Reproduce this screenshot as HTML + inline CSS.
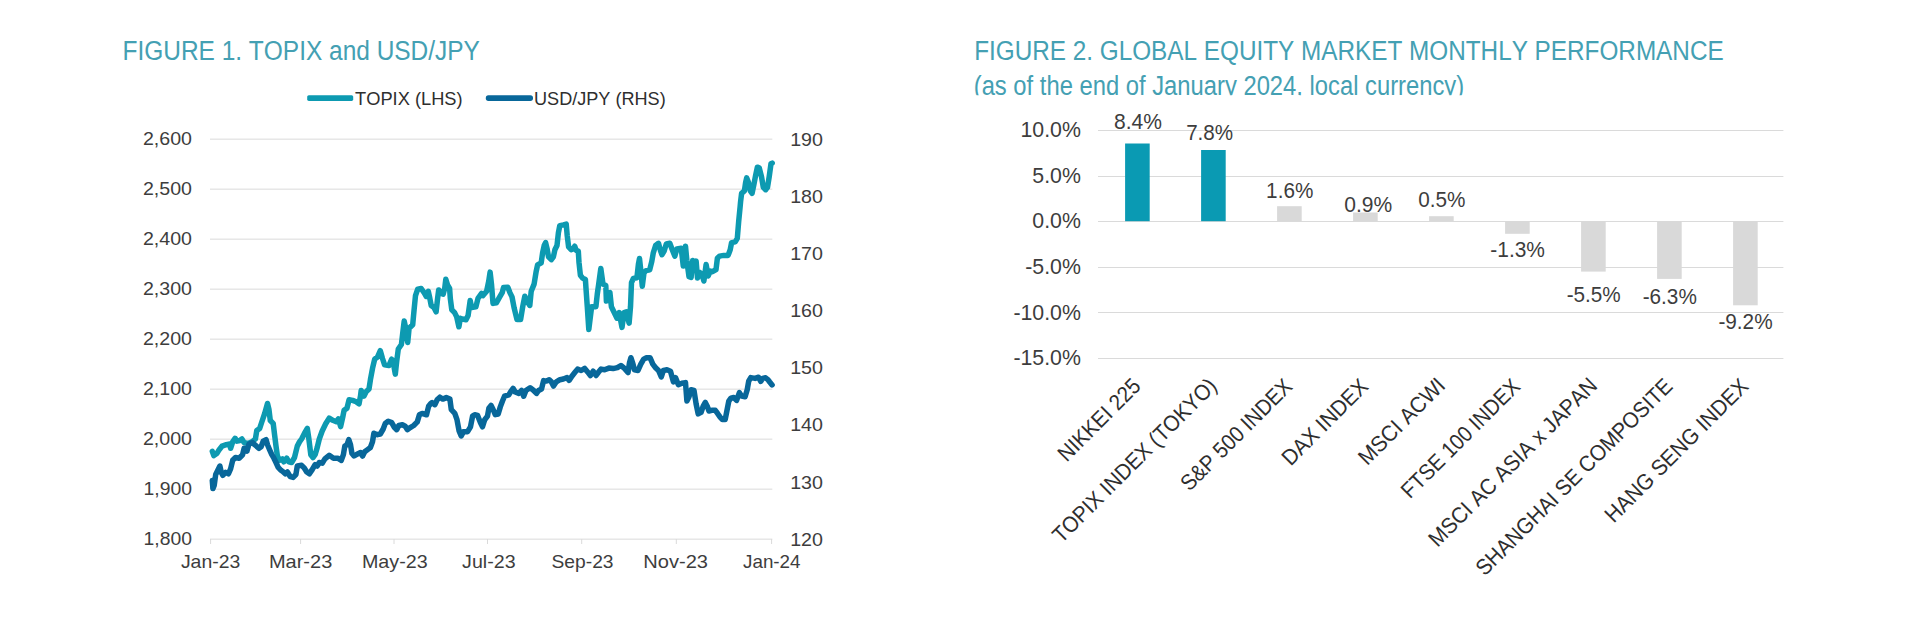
<!DOCTYPE html>
<html lang="en"><head><meta charset="utf-8"><title>Figures</title>
<style>
html,body{margin:0;padding:0;background:#fff;}
body{width:1920px;height:634px;overflow:hidden;position:relative;font-family:"Liberation Sans",sans-serif;}
svg{position:absolute;left:0;top:0;display:block}
text{font-family:"Liberation Sans",sans-serif;font-kerning:none;}
.ttl{fill:#44a0b3;font-size:27.0px}
.ax{fill:#3d3d3d;font-size:18.4px}
.ax2{fill:#3d3d3d;font-size:22.3px}
.cat{fill:#2e2e2e;font-size:22.3px}
.leg{fill:#2e2e2e;font-size:18.9px}
.grid{stroke:#dadada;stroke-width:1;fill:none}
</style></head><body>
<svg width="1920" height="634" viewBox="0 0 1920 634">
<defs><clipPath id="c2"><rect x="960" y="60" width="800" height="35.2"/></clipPath></defs>
<text class="ttl" x="122.49" y="59.80" textLength="357.44" lengthAdjust="spacingAndGlyphs">FIGURE 1. TOPIX and USD/JPY</text>
<text class="ttl" x="974.21" y="59.70" textLength="749.44" lengthAdjust="spacingAndGlyphs">FIGURE 2. GLOBAL EQUITY MARKET MONTHLY PERFORMANCE</text>
<g clip-path="url(#c2)"><text class="ttl" x="973.73" y="94.80" textLength="490.45" lengthAdjust="spacingAndGlyphs">(as of the end of January 2024, local currency)</text></g>
<line class="grid" x1="210.0" y1="139.15" x2="772.3" y2="139.15"/>
<text class="ax" x="142.91" y="145.40" textLength="49.05" lengthAdjust="spacingAndGlyphs">2,600</text>
<line class="grid" x1="210.0" y1="189.15" x2="772.3" y2="189.15"/>
<text class="ax" x="142.91" y="195.40" textLength="49.05" lengthAdjust="spacingAndGlyphs">2,500</text>
<line class="grid" x1="210.0" y1="239.15" x2="772.3" y2="239.15"/>
<text class="ax" x="142.91" y="245.40" textLength="49.05" lengthAdjust="spacingAndGlyphs">2,400</text>
<line class="grid" x1="210.0" y1="289.15" x2="772.3" y2="289.15"/>
<text class="ax" x="142.91" y="295.40" textLength="49.05" lengthAdjust="spacingAndGlyphs">2,300</text>
<line class="grid" x1="210.0" y1="339.15" x2="772.3" y2="339.15"/>
<text class="ax" x="142.91" y="345.40" textLength="49.05" lengthAdjust="spacingAndGlyphs">2,200</text>
<line class="grid" x1="210.0" y1="389.15" x2="772.3" y2="389.15"/>
<text class="ax" x="142.91" y="395.40" textLength="49.05" lengthAdjust="spacingAndGlyphs">2,100</text>
<line class="grid" x1="210.0" y1="439.15" x2="772.3" y2="439.15"/>
<text class="ax" x="142.91" y="445.40" textLength="49.05" lengthAdjust="spacingAndGlyphs">2,000</text>
<line class="grid" x1="210.0" y1="489.15" x2="772.3" y2="489.15"/>
<text class="ax" x="143.53" y="495.40" textLength="48.43" lengthAdjust="spacingAndGlyphs">1,900</text>
<line class="grid" x1="210.0" y1="539.15" x2="772.3" y2="539.15"/>
<text class="ax" x="143.53" y="545.40" textLength="48.43" lengthAdjust="spacingAndGlyphs">1,800</text>
<text class="ax" x="790.20" y="145.6" textLength="32.76" lengthAdjust="spacingAndGlyphs">190</text>
<text class="ax" x="790.20" y="202.7" textLength="32.76" lengthAdjust="spacingAndGlyphs">180</text>
<text class="ax" x="790.20" y="259.9" textLength="32.76" lengthAdjust="spacingAndGlyphs">170</text>
<text class="ax" x="790.20" y="317.0" textLength="32.76" lengthAdjust="spacingAndGlyphs">160</text>
<text class="ax" x="790.20" y="374.2" textLength="32.76" lengthAdjust="spacingAndGlyphs">150</text>
<text class="ax" x="790.20" y="431.3" textLength="32.76" lengthAdjust="spacingAndGlyphs">140</text>
<text class="ax" x="790.20" y="488.5" textLength="32.76" lengthAdjust="spacingAndGlyphs">130</text>
<text class="ax" x="790.20" y="545.6" textLength="32.76" lengthAdjust="spacingAndGlyphs">120</text>
<line class="grid" x1="210.6" y1="539" x2="210.6" y2="544"/>
<text class="ax" x="180.90" y="568.20" textLength="59.36" lengthAdjust="spacingAndGlyphs">Jan-23</text>
<line class="grid" x1="300.6" y1="539" x2="300.6" y2="544"/>
<text class="ax" x="268.96" y="568.20" textLength="63.32" lengthAdjust="spacingAndGlyphs">Mar-23</text>
<line class="grid" x1="394" y1="539" x2="394" y2="544"/>
<text class="ax" x="361.98" y="568.20" textLength="65.68" lengthAdjust="spacingAndGlyphs">May-23</text>
<line class="grid" x1="487.5" y1="539" x2="487.5" y2="544"/>
<text class="ax" x="462.09" y="568.20" textLength="53.47" lengthAdjust="spacingAndGlyphs">Jul-23</text>
<line class="grid" x1="581.7" y1="539" x2="581.7" y2="544"/>
<text class="ax" x="551.53" y="568.20" textLength="62.02" lengthAdjust="spacingAndGlyphs">Sep-23</text>
<line class="grid" x1="676.3" y1="539" x2="676.3" y2="544"/>
<text class="ax" x="643.25" y="568.20" textLength="64.73" lengthAdjust="spacingAndGlyphs">Nov-23</text>
<line class="grid" x1="771.6" y1="539" x2="771.6" y2="544"/>
<text class="ax" x="743.01" y="568.20" textLength="57.55" lengthAdjust="spacingAndGlyphs">Jan-24</text>
<rect x="307.2" y="95.2" width="46" height="5.7" rx="1.6" fill="#0d9ab1"/>
<text class="leg" x="355.09" y="104.60" textLength="107.54" lengthAdjust="spacingAndGlyphs">TOPIX (LHS)</text>
<rect x="485.8" y="95.2" width="47.2" height="5.7" rx="2.6" fill="#08679a"/>
<text class="leg" x="534.00" y="104.60" textLength="131.72" lengthAdjust="spacingAndGlyphs">USD/JPY (RHS)</text>
<path d="M212.3 451.4 L213.8 455.6 L217.1 453.2 L219.2 449.7 L222.0 446.1 L226.3 444.7 L229.9 444.0 L230.6 448.3 L232.7 441.9 L235.1 438.3 L237.0 441.2 L239.8 440.5 L241.9 439.0 L244.1 442.6 L248.0 443.5 L251.9 441.9 L255.4 439.0 L256.8 430.5 L259.7 428.4 L261.8 422.0 L264.7 413.5 L267.5 403.5 L268.9 409.2 L270.3 420.6 L273.2 423.4 L274.6 434.8 L276.0 446.1 L277.4 456.1 L279.6 460.3 L282.4 458.9 L283.8 461.8 L286.7 458.2 L288.8 461.8 L291.6 462.5 L294.5 457.5 L297.3 446.1 L299.5 441.9 L301.6 439.0 L304.4 433.4 L307.3 428.4 L308.7 437.6 L310.8 454.7 L313.0 457.5 L315.1 454.7 L317.2 447.6 L319.3 439.0 L322.2 431.0 L325.7 423.8 L329.2 418.1 L332.8 420.3 L336.3 421.7 L338.4 418.8 L340.6 426.6 L342.7 417.4 L344.1 410.3 L347.0 408.2 L349.1 399.7 L352.6 400.4 L356.2 401.8 L359.0 403.9 L360.5 396.1 L361.2 390.4 L364.0 396.1 L366.1 391.8 L369.0 389.0 L370.4 379.8 L372.5 368.4 L374.7 359.2 L377.5 357.0 L380.3 350.7 L382.5 358.5 L384.6 364.9 L388.9 365.6 L391.7 359.2 L393.8 365.6 L395.3 374.1 L396.7 361.3 L398.3 349.0 L401.4 344.5 L402.8 332.5 L404.2 321.1 L406.3 331.1 L407.7 342.4 L409.1 328.2 L412.7 324.7 L414.1 309.8 L415.5 295.6 L417.7 289.2 L421.2 288.5 L424.1 292.7 L426.2 296.3 L428.3 291.3 L429.7 297.7 L431.2 305.5 L434.0 307.6 L436.1 311.9 L437.6 298.4 L438.7 289.9 L441.1 293.4 L443.2 294.1 L444.7 288.5 L445.8 279.2 L447.5 284.9 L449.6 288.5 L450.3 298.4 L451.8 309.8 L454.6 312.6 L456.7 316.9 L458.9 326.8 L460.3 318.3 L462.4 319.0 L466.0 319.7 L468.1 315.5 L470.2 300.5 L471.6 307.6 L475.9 306.9 L478.0 298.4 L481.6 293.4 L483.0 295.6 L486.6 291.3 L488.7 281.4 L490.1 272.1 L491.5 284.2 L493.0 303.4 L496.5 302.7 L499.3 297.7 L502.2 292.7 L503.5 287.6 L507.8 287.2 L509.9 292.6 L512.0 296.9 L514.2 308.2 L517.0 319.6 L520.6 319.6 L522.7 306.8 L524.8 296.2 L527.0 301.1 L529.8 305.4 L531.2 291.2 L534.1 284.1 L536.2 271.3 L537.6 264.9 L541.2 262.8 L542.6 252.8 L544.2 245.5 L545.6 242.6 L547.0 248.3 L548.5 256.8 L551.3 259.7 L553.4 256.8 L554.9 249.7 L557.0 245.5 L558.4 232.7 L559.8 225.6 L563.4 224.9 L566.2 224.1 L567.2 235.5 L568.6 246.9 L571.2 249.7 L573.3 249.0 L574.7 246.2 L576.2 250.4 L578.3 251.1 L579.0 262.5 L580.4 275.3 L582.6 278.1 L585.4 279.5 L586.1 290.0 L587.3 306.8 L588.8 329.5 L590.2 318.2 L591.6 306.8 L595.9 306.8 L597.3 294.0 L598.7 284.1 L600.8 268.5 L603.0 284.1 L605.8 285.5 L606.4 301.1 L607.8 294.0 L609.9 292.6 L611.4 306.8 L614.2 312.5 L617.0 318.2 L619.2 312.5 L622.0 327.4 L624.1 312.5 L626.3 311.8 L629.1 323.2 L630.5 306.8 L631.5 282.7 L633.4 278.4 L636.9 277.7 L638.4 264.2 L639.5 258.5 L640.9 271.3 L642.3 286.2 L644.0 272.7 L646.2 270.6 L649.7 269.9 L651.8 261.4 L653.3 252.8 L655.6 245.5 L658.5 243.3 L660.6 251.1 L662.0 254.7 L664.1 251.1 L666.3 244.0 L669.8 243.3 L672.0 249.0 L674.8 256.1 L676.9 249.0 L681.2 248.3 L683.3 266.1 L685.5 246.2 L686.9 261.1 L689.0 276.7 L691.1 277.4 L692.6 260.4 L694.7 263.2 L696.1 261.1 L697.5 278.1 L699.7 272.4 L701.8 273.9 L703.9 281.0 L706.1 264.6 L708.2 276.0 L710.3 271.0 L712.4 271.7 L716.0 269.6 L717.4 258.2 L719.5 256.1 L723.8 255.4 L728.1 255.4 L730.2 249.7 L731.6 242.6 L735.2 241.9 L737.3 238.4 L738.7 221.3 L740.1 207.1 L740.6 201.5 L741.6 193.3 L744.4 190.9 L745.6 182.6 L746.7 177.9 L748.5 182.6 L750.3 190.9 L752.1 193.3 L753.8 185.0 L755.6 175.5 L757.4 167.2 L759.2 167.8 L761.5 176.7 L763.3 187.3 L765.7 189.7 L767.5 187.3 L769.2 176.7 L771.0 163.7 L772.2 163.1" fill="none" stroke="#0d9ab1" stroke-width="5.5" stroke-linejoin="round" stroke-linecap="round"/>
<path d="M212.3 480.5 L212.9 488.6 L214.2 485.5 L215.7 474.5 L217.8 470.3 L219.9 466.0 L221.3 472.4 L222.8 475.3 L225.6 472.4 L228.4 473.8 L230.6 468.9 L232.7 460.3 L235.5 457.5 L239.1 458.2 L242.6 454.7 L244.1 448.3 L246.9 451.1 L249.0 444.0 L252.6 442.6 L254.7 444.7 L259.0 448.3 L261.1 446.8 L263.2 441.2 L266.1 439.7 L267.5 444.7 L269.6 449.7 L271.8 454.7 L273.9 458.2 L276.0 462.5 L278.2 467.4 L281.0 470.3 L283.1 471.7 L285.3 473.8 L287.4 472.0 L290.2 476.7 L293.1 477.4 L295.9 474.5 L297.3 466.0 L301.6 465.3 L304.4 468.2 L306.6 471.7 L309.4 473.8 L312.2 469.6 L315.1 464.6 L317.2 466.0 L319.3 462.5 L322.2 463.2 L324.9 458.9 L329.2 455.3 L333.5 458.2 L337.7 458.2 L341.3 460.3 L343.4 454.6 L344.8 446.1 L347.0 444.7 L348.8 439.7 L350.5 444.7 L351.9 453.2 L354.1 456.0 L357.6 453.9 L360.5 452.5 L362.6 456.0 L364.7 451.8 L367.6 449.6 L370.4 447.5 L372.5 441.8 L373.9 433.3 L377.5 434.7 L380.3 434.0 L383.2 429.0 L385.3 423.4 L388.2 421.2 L391.7 422.6 L394.5 427.6 L396.7 429.7 L398.8 425.5 L402.4 424.8 L405.2 426.2 L407.3 429.7 L410.2 427.6 L413.7 425.5 L417.3 421.9 L419.4 414.8 L422.2 413.4 L426.5 414.8 L428.6 406.3 L430.8 403.5 L432.1 402.6 L434.9 404.7 L437.1 399.8 L439.9 397.2 L442.8 399.1 L446.3 397.6 L449.9 399.1 L451.3 409.7 L454.8 413.3 L457.0 419.7 L459.1 431.0 L461.2 436.0 L463.4 431.7 L467.6 431.7 L470.5 426.8 L472.6 416.1 L474.7 414.7 L477.6 415.4 L480.4 422.5 L482.5 426.8 L484.7 419.7 L487.5 416.1 L488.9 408.3 L491.1 405.5 L493.2 409.7 L495.3 414.7 L498.2 414.0 L500.3 406.9 L502.4 401.2 L504.5 396.2 L508.8 394.8 L510.9 391.3 L513.1 388.4 L515.2 392.0 L518.8 393.4 L521.6 390.5 L523.7 396.2 L525.9 390.5 L530.1 387.7 L533.7 390.5 L536.5 393.4 L538.6 390.5 L541.5 389.1 L543.6 380.6 L546.4 381.1 L549.2 379.7 L551.3 381.8 L553.5 386.1 L556.3 381.8 L559.9 379.7 L563.4 379.0 L567.0 377.6 L569.1 380.4 L571.9 376.2 L574.8 372.6 L577.6 369.1 L581.2 370.5 L584.7 368.4 L587.6 371.9 L590.4 375.5 L593.2 371.2 L596.1 375.5 L598.2 372.6 L601.1 369.1 L604.6 369.8 L608.9 368.1 L613.1 368.6 L617.4 367.6 L620.9 365.5 L624.5 368.4 L628.0 372.6 L629.5 362.7 L630.9 357.7 L633.0 364.1 L634.4 369.8 L638.0 370.5 L640.8 364.1 L643.7 359.1 L646.5 357.7 L650.1 357.7 L652.8 364.1 L655.6 367.7 L658.5 370.5 L661.3 376.9 L663.4 370.5 L667.0 369.8 L670.5 371.2 L673.4 381.9 L675.5 377.6 L678.4 384.7 L681.9 383.3 L685.5 382.6 L686.9 401.1 L689.0 396.8 L691.1 389.7 L694.0 390.4 L696.1 403.9 L698.2 413.9 L701.1 412.4 L703.2 406.1 L705.3 402.5 L707.5 406.8 L708.9 411.0 L711.7 410.3 L715.3 410.3 L717.4 413.2 L720.3 417.4 L722.4 419.5 L725.2 419.5 L726.6 412.4 L728.8 401.1 L730.9 398.2 L733.8 397.5 L736.6 400.4 L739.4 392.6 L741.6 396.1 L745.1 396.8 L747.2 389.7 L748.7 381.2 L750.8 377.6 L755.1 378.4 L758.6 377.2 L760.8 381.4 L762.6 378.4 L765.6 377.8 L767.9 379.6 L769.7 382.0 L772.1 384.9" fill="none" stroke="#08679a" stroke-width="5.5" stroke-linejoin="round" stroke-linecap="round"/>
<line class="grid" x1="1098.0" y1="130.5" x2="1783.4" y2="130.5"/>
<text class="ax2" x="1020.48" y="137.2" textLength="60.38" lengthAdjust="spacingAndGlyphs">10.0%</text>
<line class="grid" x1="1098.0" y1="176.5" x2="1783.4" y2="176.5"/>
<text class="ax2" x="1032.32" y="182.8" textLength="48.54" lengthAdjust="spacingAndGlyphs">5.0%</text>
<line class="grid" x1="1098.0" y1="221.5" x2="1783.4" y2="221.5"/>
<text class="ax2" x="1032.32" y="228.4" textLength="48.54" lengthAdjust="spacingAndGlyphs">0.0%</text>
<line class="grid" x1="1098.0" y1="267.5" x2="1783.4" y2="267.5"/>
<text class="ax2" x="1025.23" y="274.0" textLength="55.63" lengthAdjust="spacingAndGlyphs">-5.0%</text>
<line class="grid" x1="1098.0" y1="312.5" x2="1783.4" y2="312.5"/>
<text class="ax2" x="1013.39" y="319.6" textLength="67.47" lengthAdjust="spacingAndGlyphs">-10.0%</text>
<line class="grid" x1="1098.0" y1="358.5" x2="1783.4" y2="358.5"/>
<text class="ax2" x="1013.39" y="365.2" textLength="67.47" lengthAdjust="spacingAndGlyphs">-15.0%</text>
<rect x="1125.1" y="143.5" width="24.6" height="77.7" fill="#0a9ab3"/>
<text class="ax2" x="1113.99" y="129.40" textLength="47.96" lengthAdjust="spacingAndGlyphs">8.4%</text>
<text class="cat" x="-1.67" y="0" textLength="106.22" lengthAdjust="spacingAndGlyphs" transform="translate(1067.97 461.53) rotate(-45)">NIKKEI 225</text>
<rect x="1201.1" y="150.0" width="24.6" height="71.2" fill="#0a9ab3"/>
<text class="ax2" x="1186.14" y="139.70" textLength="46.99" lengthAdjust="spacingAndGlyphs">7.8%</text>
<text class="cat" x="-0.46" y="0" textLength="221.74" lengthAdjust="spacingAndGlyphs" transform="translate(1061.74 543.76) rotate(-45)">TOPIX INDEX (TOKYO)</text>
<rect x="1277.1" y="206.2" width="24.6" height="15.0" fill="#d9d9d9"/>
<text class="ax2" x="1266.12" y="197.60" textLength="47.22" lengthAdjust="spacingAndGlyphs">1.6%</text>
<text class="cat" x="-0.92" y="0" textLength="147.34" lengthAdjust="spacingAndGlyphs" transform="translate(1190.06 491.44) rotate(-45)">S&amp;P 500 INDEX</text>
<rect x="1353.1" y="212.5" width="24.6" height="8.7" fill="#d9d9d9"/>
<text class="ax2" x="1344.18" y="211.50" textLength="47.97" lengthAdjust="spacingAndGlyphs">0.9%</text>
<text class="cat" x="-1.70" y="0" textLength="111.63" lengthAdjust="spacingAndGlyphs" transform="translate(1291.87 465.63) rotate(-45)">DAX INDEX</text>
<rect x="1429.1" y="216.2" width="24.6" height="5.0" fill="#d9d9d9"/>
<text class="ax2" x="1418.19" y="206.60" textLength="47.25" lengthAdjust="spacingAndGlyphs">0.5%</text>
<text class="cat" x="-1.71" y="0" textLength="112.44" lengthAdjust="spacingAndGlyphs" transform="translate(1368.37 465.13) rotate(-45)">MSCI ACWI</text>
<rect x="1505.1" y="221.2" width="24.6" height="12.6" fill="#d9d9d9"/>
<text class="ax2" x="1490.27" y="257.00" textLength="54.68" lengthAdjust="spacingAndGlyphs">-1.3%</text>
<text class="cat" x="-1.65" y="0" textLength="157.67" lengthAdjust="spacingAndGlyphs" transform="translate(1411.27 498.23) rotate(-45)">FTSE 100 INDEX</text>
<rect x="1581.1" y="221.2" width="24.6" height="50.4" fill="#d9d9d9"/>
<text class="ax2" x="1566.68" y="302.00" textLength="54.06" lengthAdjust="spacingAndGlyphs">-5.5%</text>
<text class="cat" x="-1.70" y="0" textLength="227.58" lengthAdjust="spacingAndGlyphs" transform="translate(1438.77 546.73) rotate(-45)">MSCI AC ASIA x JAPAN</text>
<rect x="1657.1" y="221.2" width="24.6" height="57.7" fill="#d9d9d9"/>
<text class="ax2" x="1642.68" y="303.80" textLength="54.16" lengthAdjust="spacingAndGlyphs">-6.3%</text>
<text class="cat" x="-0.93" y="0" textLength="267.60" lengthAdjust="spacingAndGlyphs" transform="translate(1485.35 576.15) rotate(-45)">SHANGHAI SE COMPOSITE</text>
<rect x="1733.1" y="221.2" width="24.6" height="84.1" fill="#d9d9d9"/>
<text class="ax2" x="1718.38" y="328.70" textLength="54.26" lengthAdjust="spacingAndGlyphs">-9.2%</text>
<text class="cat" x="-1.69" y="0" textLength="192.02" lengthAdjust="spacingAndGlyphs" transform="translate(1615.02 522.48) rotate(-45)">HANG SENG INDEX</text>
</svg></body></html>
